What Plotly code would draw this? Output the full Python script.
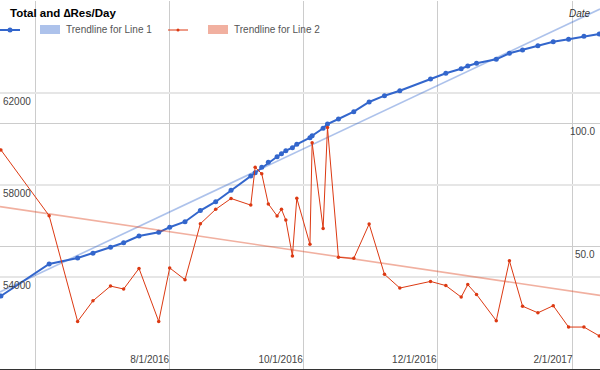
import plotly.graph_objects as go

# ---- data ----
dates = [
    "2016-05-16", "2016-06-07", "2016-06-20", "2016-06-27", "2016-07-05", "2016-07-11",
    "2016-07-18", "2016-07-27", "2016-08-01", "2016-08-08", "2016-08-15", "2016-08-22",
    "2016-08-29", "2016-09-07", "2016-09-09", "2016-09-12", "2016-09-15", "2016-09-19",
    "2016-09-21", "2016-09-23", "2016-09-26", "2016-09-28", "2016-10-04", "2016-10-05",
    "2016-10-10", "2016-10-12", "2016-10-17", "2016-10-24", "2016-10-31", "2016-11-07",
    "2016-11-14", "2016-11-28", "2016-12-05", "2016-12-12", "2016-12-15", "2016-12-19",
    "2016-12-28", "2017-01-03", "2017-01-09", "2017-01-16", "2017-01-23", "2017-01-30",
    "2017-02-06", "2017-02-13",
]
total = [
    53174, 54565, 54826, 55030, 55291, 55491, 55783, 55943, 56161, 56404, 56891, 57274,
    57770, 58391, 58535, 58770, 58987, 59230, 59361, 59491, 59622, 59770, 60057, 60143,
    60465, 60652, 60870, 61187, 61609, 61883, 62100, 62609, 62856, 63057, 63174, 63291,
    63465, 63726, 63870, 64057, 64230, 64335, 64465, 64565,
]
delta_res_day = [
    89.3, 62.5, 19.4, 27.8, 33.8, 32.6, 41.0, 19.4, 41.2, 36.4, 59.2, 65.1,
    69.5, 66.8, 82.2, 79.6, 67.3, 62.4, 65.1, 60.7, 46.1, 69.6, 50.8, 92.2,
    57.3, 98.4, 45.5, 45.1, 59.1, 38.6, 33.0, 35.7, 34.0, 29.3, 34.4, 30.4,
    19.7, 44.1, 25.6, 22.9, 25.8, 17.1, 17.1, 13.5,
]
trend_dates = ["2016-05-15 14:00", "2017-02-13 08:00"]
trend1_vals = [53350, 65650]
trend2_vals = [66.2, 30.0]

x_tickvals = ["2016-06-01", "2016-08-01", "2016-10-01", "2016-12-01", "2017-02-01"]
x_ticktext = ["", "8/1/2016", "10/1/2016", "12/1/2016", "2/1/2017"]
left_tickvals = [50000, 54000, 58000, 62000, 66000]
left_ticktext = ["", "54000", "58000", "62000", ""]
right_tickvals = [0, 50, 100, 150]
right_labelled = [50, 100]
right_labels = ["50.0", "100.0"]

title_text = "Total and \u2206Res/Day"
legend_labels = ["Trendline for Line 1", "Trendline for Line 2"]

BLUE = "#3366cc"
RED = "#dc3912"
BLUE_T = "rgba(51,102,204,0.4)"
RED_T = "rgba(220,57,18,0.4)"
FONT = "Liberation Sans, Arial, sans-serif"

W, H = 600, 370
MT, MB = 1, 1
PH = H - MT - MB


def px(x):
    return x / W


def py(y):
    return 1 - (y - MT) / PH


fig = go.Figure()
fig.add_trace(go.Scatter(x=trend_dates, y=trend1_vals, mode="lines",
                         line=dict(color=BLUE_T, width=1.6), yaxis="y", hoverinfo="skip"))
fig.add_trace(go.Scatter(x=trend_dates, y=trend2_vals, mode="lines",
                         line=dict(color=RED_T, width=1.6), yaxis="y2", hoverinfo="skip"))
fig.add_trace(go.Scatter(x=dates, y=delta_res_day, mode="lines+markers",
                         line=dict(color=RED, width=1), marker=dict(color=RED, size=3.5),
                         yaxis="y2", hoverinfo="skip"))
fig.add_trace(go.Scatter(x=dates, y=total, mode="lines+markers",
                         line=dict(color=BLUE, width=2), marker=dict(color=BLUE, size=5),
                         yaxis="y", hoverinfo="skip"))

shapes = [
    dict(type="line", xref="paper", yref="paper", x0=px(0), x1=px(20), y0=py(30), y1=py(30),
         line=dict(color=BLUE, width=2)),
    dict(type="circle", xref="paper", yref="paper", x0=px(7.5), x1=px(12.5), y0=py(32.5), y1=py(27.5),
         fillcolor=BLUE, line=dict(width=0)),
    dict(type="rect", xref="paper", yref="paper", x0=px(40), x1=px(60), y0=py(34), y1=py(25),
         fillcolor="rgb(173,194,235)", line=dict(width=0)),
    dict(type="line", xref="paper", yref="paper", x0=px(168), x1=px(188), y0=py(30), y1=py(30),
         line=dict(color=RED, width=1)),
    dict(type="circle", xref="paper", yref="paper", x0=px(176.5), x1=px(179.5), y0=py(31.5), y1=py(28.5),
         fillcolor=RED, line=dict(width=0)),
    dict(type="rect", xref="paper", yref="paper", x0=px(208), x1=px(228), y0=py(34), y1=py(25),
         fillcolor="rgb(241,176,160)", line=dict(width=0)),
]

annotations = [
    dict(text="<b>" + title_text + "</b>", xref="paper", yref="paper", x=px(8), y=py(13),
         xanchor="left", yanchor="middle", showarrow=False,
         font=dict(family=FONT, size=11.5, color="#000000")),
    dict(text=legend_labels[0], xref="paper", yref="paper", x=px(64), y=py(30),
         xanchor="left", yanchor="middle", showarrow=False,
         font=dict(family=FONT, size=10, color="#555555")),
    dict(text=legend_labels[1], xref="paper", yref="paper", x=px(232), y=py(30),
         xanchor="left", yanchor="middle", showarrow=False,
         font=dict(family=FONT, size=10, color="#555555")),
    dict(text="<i>Date</i>", xref="paper", yref="paper", x=px(593), y=py(13),
         xanchor="right", yanchor="middle", showarrow=False,
         font=dict(family=FONT, size=10, color="#333333")),
]
# right-axis labels, drawn at their axis values
for v, t in zip(right_labelled, right_labels):
    annotations.append(dict(text=t, xref="paper", yref="y2", x=px(597), y=v, yshift=-8,
                            xanchor="right", yanchor="middle", showarrow=False,
                            font=dict(family=FONT, size=10, color="#444444")))

fig.update_layout(
    width=W, height=H,
    margin=dict(l=0, r=0, t=MT, b=MB, pad=0),
    paper_bgcolor="white", plot_bgcolor="white",
    showlegend=False,
    font=dict(family=FONT, size=10, color="#444444"),
    shapes=shapes,
    annotations=annotations,
    xaxis=dict(
        type="date", range=trend_dates,
        tickvals=x_tickvals, ticktext=x_ticktext,
        ticklabelposition="inside left",
        showgrid=True, gridcolor="#cccccc", gridwidth=1,
        showline=True, linecolor="#333333", linewidth=1,
        zeroline=False, ticks="",
        tickfont=dict(family=FONT, size=10, color="#444444"),
    ),
    yaxis=dict(
        range=[50000, 66000],
        tickvals=left_tickvals, ticktext=left_ticktext,
        ticklabelposition="inside", ticklabelshift=8, ticklabelstandoff=0,
        showgrid=True, gridcolor="#e6e6e6", gridwidth=2,
        zeroline=False, showline=False, ticks="",
        tickfont=dict(family=FONT, size=10, color="#444444"),
    ),
    yaxis2=dict(
        range=[0, 150], overlaying="y", side="right",
        tickvals=right_tickvals, showticklabels=False,
        showgrid=True, gridcolor="#cccccc", gridwidth=1,
        zeroline=False, showline=False, ticks="",
    ),
)

fig.write_html(
    "out.html",
    config={"displayModeBar": False},
    post_script="document.body.style.margin='0';document.body.style.padding='0';",
)
